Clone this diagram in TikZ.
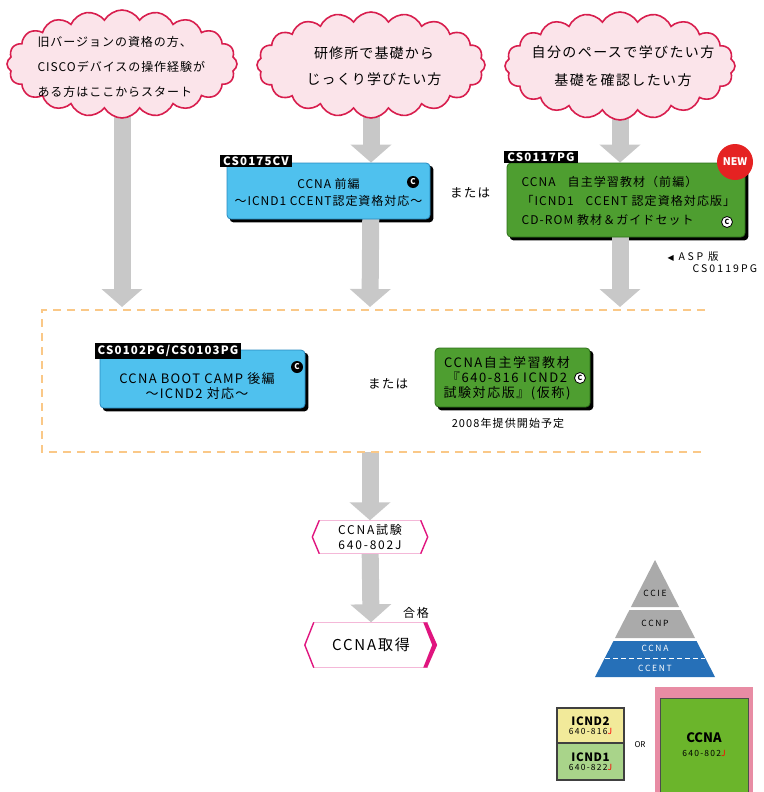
\documentclass[tikz,border=0pt]{standalone}
\usepackage{fontspec}
\setmainfont{Noto Sans CJK JP}
\newfontfamily\dejavu{DejaVu Sans}
\usetikzlibrary{shapes.symbols,arrows.meta,calc}
\definecolor{cloudpink}{HTML}{FBE4EA}
\definecolor{cloudred}{HTML}{D81E4E}
\definecolor{arrgray}{HTML}{C8C8C8}
\definecolor{boxblue}{HTML}{4FC1EE}
\definecolor{blueedge}{HTML}{2A8AC0}
\definecolor{boxgreen}{HTML}{4E9E30}
\definecolor{greenedge}{HTML}{2E6E1A}
\definecolor{dashorange}{HTML}{FAC887}
\definecolor{hexpink}{HTML}{F4B8D8}
\definecolor{hexmag}{HTML}{E0157F}
\definecolor{pyrgray}{HTML}{AAAAAA}
\definecolor{pyrblue}{HTML}{2670B8}
\definecolor{icndyellow}{HTML}{F2EA9A}
\definecolor{icndgreen}{HTML}{A9D48A}
\definecolor{ccnagreen}{HTML}{6BB52B}
\definecolor{ccnapink}{HTML}{E88CA4}
\definecolor{newred}{HTML}{E52222}
\newcommand{\fs}[3]{\fontsize{#1}{#2}\selectfont\addfontfeature{LetterSpace=#3}}
\pgfdeclarelayer{bg}
\pgfsetlayers{bg,main}
\tikzset{
  cloudbox/.style={cloud, cloud puffs=20, cloud puff arc=120, cloud ignores aspect,
    draw=cloudred, line width=1.6pt, fill=cloudpink, inner sep=0pt},
  bigarrow/.style={line width=17pt, draw=arrgray, -{Triangle[width=40pt,length=18pt]}},
  bluebox/.style={rectangle, rounded corners=4pt, fill=boxblue, draw=blueedge, line width=0.8pt},
  greenbox/.style={rectangle, rounded corners=4pt, fill=boxgreen, draw=greenedge, line width=0.8pt},
  boxshadow/.style={fill=black, rounded corners=4pt},
  codelabel/.style={fill=black, text=white, font=\bfseries\fs{11.5}{12}{10}, inner xsep=3pt, inner ysep=2pt},
  iconblack/.style={circle, fill=black, text=white, inner sep=0pt, minimum size=12pt, font=\bfseries\fontsize{8}{8}\selectfont},
  iconwhite/.style={circle, fill=white, draw=black, line width=0.8pt, text=black, inner sep=0pt, minimum size=11pt, font=\bfseries\fontsize{7}{7}\selectfont},
  ortext/.style={font=\fs{12.5}{13}{10}},
  hexthin/.style={draw=hexpink, line width=1pt},
  hexend/.style={draw=hexmag, line width=1.4pt},
  pyrlabel/.style={font=\fs{8.5}{9}{20}},
}
\begin{document}
\begin{tikzpicture}[x=1pt,y=-1pt]
\useasboundingbox (0,0) rectangle (763,792);

% clouds
\node[cloudbox, minimum width=230pt, minimum height=108pt] (c1) at (122,64) {};
\node[font=\fs{12}{25}{8}, align=left, anchor=west] (t1) at (34,67)
  {旧バージョンの資格の方、\\CISCOデバイスの操作経験が\\ある方はここからスタート};
\node[cloudbox, minimum width=228pt, minimum height=106pt] (c2) at (371,65) {};
\node[font=\fs{14}{26}{8}, align=center] (t2) at (374,66)
  {研修所で基礎から\\じっくり学びたい方};
\node[cloudbox, minimum width=230pt, minimum height=108pt] (c3) at (620,66) {};
\node[font=\fs{14}{28}{10}, align=center] (t3) at (623,66)
  {自分のペースで学びたい方\\基礎を確認したい方};

% dashed region
\coordinate (dtl) at (705,310);
\coordinate (dl) at (42,310);
\coordinate (dbl) at (42,452);
\coordinate (dbr) at (705,452);
\draw[draw=dashorange, line width=2pt, dash pattern=on 8pt off 6pt] (dtl) -- (dl) -- (dbl) -- (dbr);
\coordinate (d1) at (122,307);
\coordinate (d2) at (370,307);
\coordinate (d3) at (620,307);
\coordinate (dbot) at (370,452);

% box 1
\node[bluebox, minimum width=203pt, minimum height=56pt] (b1) at (328.5,191) {};
\node[font=\fs{12}{17}{8}, align=center] (b1t) at (328.5,192) {CCNA 前編\\〜ICND1 CCENT認定資格対応〜};
\node[codelabel] (b1l) at (256,161) {CS0175CV};
\node[iconblack] (b1i) at (413,182) {C};
\node[ortext] (or1) at (470,193) {または};

% box 2
\node[greenbox, minimum width=238pt, minimum height=74pt] (b2) at (626,200) {};
\node[font=\fs{12}{19}{9}, align=left, anchor=west] (b2t) at (518,201)
  {CCNA\quad 自主学習教材（前編）\\「ICND1\quad CCENT 認定資格対応版」\\CD-ROM 教材＆ガイドセット};
\node[codelabel] (b2l) at (541,157) {CS0117PG};
\node[iconwhite] (b2i) at (727,222) {C};
\node[circle, fill=newred, minimum size=36pt, inner sep=0pt, text=white, font=\bfseries\fontsize{10.5}{11}\selectfont] (new) at (735,162) {NEW};
\node[font=\fs{10.5}{11}{25}, anchor=west] (asp) at (664,257) {{\dejavu\fontsize{8}{8}\selectfont ◀} ASP 版};
\node[font=\fs{10.5}{11}{20}, anchor=west] (aspc) at (689,269) {CS0119PG};

% box 3
\node[bluebox, minimum width=205pt, minimum height=58pt] (b3) at (202.5,379) {};
\node[font=\fs{13}{15}{10}, align=center] (b3t) at (197,386) {CCNA BOOT CAMP 後編\\〜ICND2 対応〜};
\node[codelabel] (b3l) at (168,351) {CS0102PG/CS0103PG};
\node[iconblack] (b3i) at (297,367) {C};
\node[ortext] (or2) at (388,384) {または};

% box 4
\node[greenbox, minimum width=155pt, minimum height=59pt] (b4) at (512.5,377.5) {};
\node[font=\fs{13}{15}{12}, align=center] (b4t) at (507,378) {CCNA自主学習教材\\『640-816 ICND2\\試験対応版』(仮称)};
\node[iconwhite] (b4i) at (580,378) {C};
\node[font=\fs{11}{11}{10}] (b4n) at (508,423) {2008年提供開始予定};

% hexagons
\node[minimum width=115pt, minimum height=33pt, inner sep=0pt] (h1) at (370,537) {};
\fill[white] ($(h1.north west)+(7,0)$) -- ($(h1.north east)+(-7,0)$) -- (h1.east) -- ($(h1.south east)+(-7,0)$) -- ($(h1.south west)+(7,0)$) -- (h1.west) -- cycle;
\draw[hexthin] ($(h1.north west)+(7,0)$) -- ($(h1.north east)+(-7,0)$);
\draw[hexthin] ($(h1.south west)+(7,0)$) -- ($(h1.south east)+(-7,0)$);
\draw[hexend] ($(h1.north west)+(7,0)$) -- (h1.west) -- ($(h1.south west)+(7,0)$);
\draw[hexend] ($(h1.north east)+(-7,0)$) -- (h1.east) -- ($(h1.south east)+(-7,0)$);
\node[font=\fs{12}{15}{15}, align=center] (h1t) at (h1.center) {CCNA試験\\640-802J};

\node[minimum width=132pt, minimum height=45pt, inner sep=0pt] (h2) at (371,645) {};
\fill[white] ($(h2.north west)+(9,0)$) -- ($(h2.north east)+(-9,0)$) -- (h2.east) -- ($(h2.south east)+(-9,0)$) -- ($(h2.south west)+(9,0)$) -- (h2.west) -- cycle;
\draw[hexthin] ($(h2.north west)+(9,0)$) -- ($(h2.north east)+(-9,0)$);
\draw[hexthin] ($(h2.south west)+(9,0)$) -- ($(h2.south east)+(-9,0)$);
\draw[hexend] ($(h2.north west)+(9,0)$) -- (h2.west) -- ($(h2.south west)+(9,0)$);
\fill[hexmag] ($(h2.north east)+(-10,0)$) -- (h2.east) -- ($(h2.south east)+(-10,0)$) -- ($(h2.south east)+(-14,0)$) -- ($(h2.east)+(-5,0)$) -- ($(h2.north east)+(-14,0)$) -- cycle;
\node[font=\fs{15}{15}{12}] (h2t) at (h2.center) {CCNA取得};
\node[font=\fs{12}{12}{15}] (pass) at (416,613) {合格};

% arrows and shadows (behind)
\begin{pgfonlayer}{bg}
  \fill[boxshadow] ($(b1.north west)+(3,3)$) rectangle ($(b1.south east)+(3,3)$);
  \fill[boxshadow] ($(b2.north west)+(3,3)$) rectangle ($(b2.south east)+(3,3)$);
  \fill[boxshadow] ($(b3.north west)+(3,3)$) rectangle ($(b3.south east)+(3,3)$);
  \fill[boxshadow] ($(b4.north west)+(3,3)$) rectangle ($(b4.south east)+(3,3)$);
  \draw[bigarrow] (c1.center) -- (d1);
  \draw[bigarrow] (c2.center) -- (c2.center |- b1.north);
  \draw[bigarrow] (c2.center |- b1.center) -- (d2);
  \draw[bigarrow] (c3.center) -- (c3.center |- b2.north);
  \draw[bigarrow] (c3.center |- b2.center) -- (d3);
  \draw[bigarrow] (dbot) -- (h1.north);
  \draw[bigarrow] (h1.center) -- (h2.north);
\end{pgfonlayer}

% pyramid
\fill[pyrgray] (655,560) -- (679.1,607) -- (630.9,607) -- cycle;
\fill[pyrgray] (629.4,610) -- (680.6,610) -- (695,638) -- (615,638) -- cycle;
\fill[pyrblue] (613.5,641) -- (696.5,641) -- (715,677) -- (595,677) -- cycle;
\draw[white, line width=1pt, dash pattern=on 5pt off 3pt] (605,658) -- (705,658);
\node[pyrlabel] (ccie) at (655,593) {CCIE};
\node[pyrlabel] (ccnp) at (655,623) {CCNP};
\node[pyrlabel, text=white] (ccnap) at (655,648) {CCNA};
\node[pyrlabel, text=white] (ccent) at (655,668) {CCENT};

% ICND stack
\node[rectangle, fill=icndyellow, draw=black!75, line width=1.2pt, minimum width=67pt, minimum height=35pt, inner sep=0pt, align=center] (i2) at (590.5,725.5)
  {{\bfseries\fs{11.5}{12}{5}ICND2}\\[-3pt]{\fs{8.5}{9}{15}640-816\textcolor{red}{J}}};
\node[rectangle, fill=icndgreen, draw=black!75, line width=1.2pt, minimum width=67pt, minimum height=37pt, inner sep=0pt, align=center] (i1) at (590.5,761.5)
  {{\bfseries\fs{11.5}{12}{5}ICND1}\\[-3pt]{\fs{8.5}{9}{15}640-822\textcolor{red}{J}}};
\node[font=\fontsize{8}{8}\selectfont] (or3) at (640,745) {OR};
\fill[ccnapink] (655,687) rectangle (753,792);
\node[rectangle, fill=ccnagreen, draw=black!70, line width=0.8pt, minimum width=88pt, minimum height=94pt, inner sep=0pt, align=center] (cc) at (704,745)
  {{\bfseries\fontsize{13}{14}\selectfont CCNA}\\[2pt]{\fs{8.5}{9}{15}640-802\textcolor{red}{J}}};
\end{tikzpicture}
\end{document}
